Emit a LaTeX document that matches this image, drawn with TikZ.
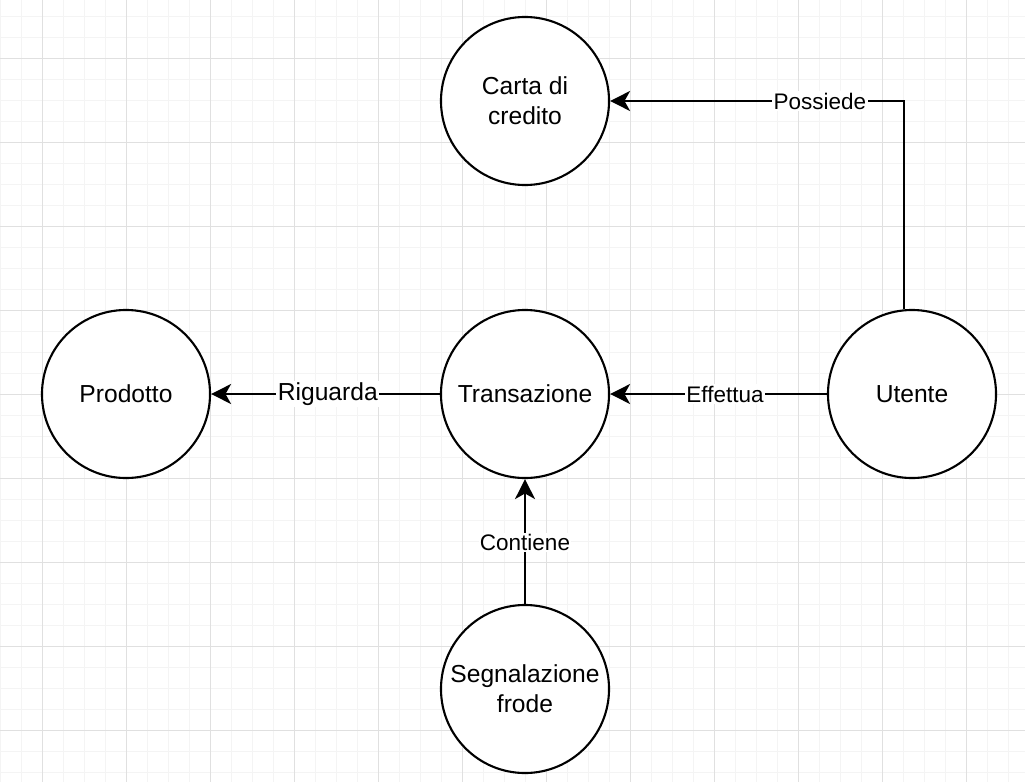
\documentclass[tikz,border=0pt]{standalone}
\usepackage{fontspec}
\setmainfont{Liberation Sans}
\usetikzlibrary{arrows.meta}
\definecolor{eeeeee}{rgb}{0.957,0.957,0.957}
\definecolor{dddddd}{rgb}{0.88,0.88,0.88}
\tikzset{
	entita/.style={circle,draw=black,line width=1.5pt,fill=white,minimum size=4.2cm,inner sep=0pt,align=center,font=\fontsize{17.5}{21.3}\selectfont},
	rel/.style={line width=1.5pt,-{Stealth[length=0.5cm,width=0.5cm,inset=0.14cm]}},
	etich/.style={fill=white,inner sep=1pt,font=\fontsize{16}{19}\selectfont},
}
\begin{document}
\begin{tikzpicture}[line cap=butt,line join=miter,x=0.025cm,y=-0.025cm]
	\useasboundingbox (0,0) rectangle (1025,782);
	\fill[white] (0,0) rectangle (1025,782);
	% griglia
	\foreach \i in {0,...,48} \draw[eeeeee,line width=0.6pt] (21*\i,0)-- (21*\i,782);
	\foreach \j in {0,...,36} \draw[eeeeee,line width=0.6pt] (0,16+21*\j)-- (1025,16+21*\j);
	\foreach \i in {0,...,11} \draw[dddddd,line width=0.6pt] (42+84*\i,0)-- (42+84*\i,782);
	\foreach \j in {0,...,8} \draw[dddddd,line width=0.6pt] (0,58+84*\j)-- (1025,58+84*\j);
	% entita
	\node[entita] (carta) at (525,101) {Carta di\\credito};
	\node[entita] (prod) at (126,394) {Prodotto};
	\node[entita] (trans) at (525,394) {Transazione};
	\node[entita] (uten) at (912,394) {Utente};
	\node[entita] (segn) at (525,689) {Segnalazione\\frode};
	% relazioni
	\draw[rel] ([xshift=-0.2cm]uten.north) |- (carta.east) node[etich,pos=0.643] {Possiede};
	\draw[rel] (trans.west)-- (prod.east) node[etich,pos=0.49,font=\fontsize{17.5}{21}\selectfont] {Riguarda};
	\draw[rel] (uten.west)-- (trans.east) node[etich,pos=0.47] {Effettua};
	\draw[rel] (segn.north)-- (trans.south) node[etich,pos=0.49] {Contiene};
\end{tikzpicture}
\end{document}
